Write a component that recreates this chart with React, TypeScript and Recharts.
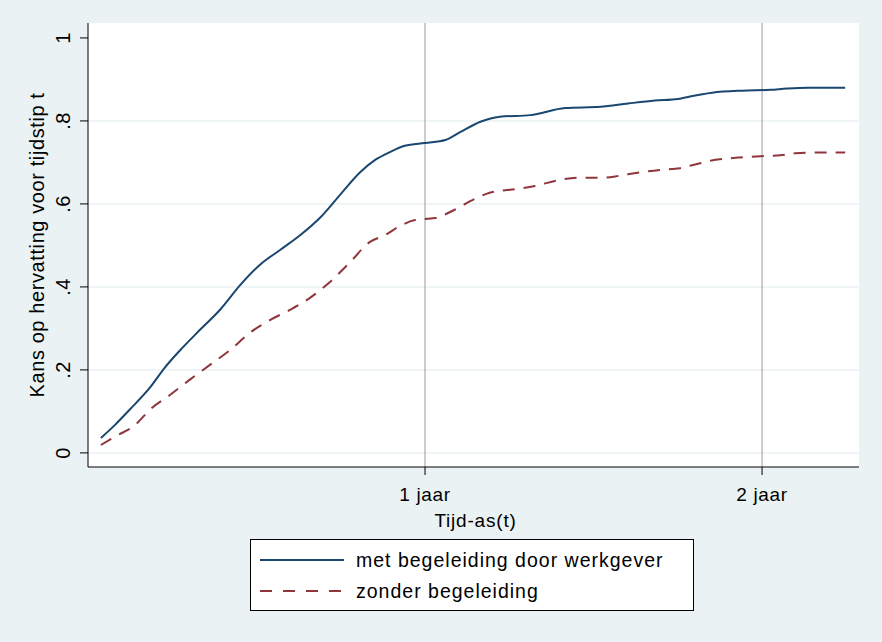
import { LineChart, Line, XAxis, YAxis, ReferenceLine, Legend, CartesianGrid } from 'recharts';

const blueDays = [14, 29, 45, 67, 83, 100, 121, 143, 165, 186, 208, 230, 251, 273, 295, 311, 327, 343, 365, 387, 403, 425, 446, 479, 517, 555, 585, 614, 639, 652, 676, 709, 739, 757, 779, 820];
const blueValues = [0.036, 0.067, 0.104, 0.157, 0.205, 0.248, 0.296, 0.345, 0.405, 0.453, 0.489, 0.525, 0.566, 0.622, 0.677, 0.706, 0.725, 0.74, 0.747, 0.754, 0.773, 0.798, 0.81, 0.814, 0.831, 0.834, 0.842, 0.849, 0.853, 0.859, 0.868, 0.873, 0.875, 0.878, 0.88, 0.88];

const redDays = [14, 29, 51, 67, 89, 110, 132, 154, 175, 197, 219, 240, 262, 284, 305, 322, 338, 354, 376, 397, 419, 435, 457, 484, 511, 533, 555, 573, 584, 598, 620, 641, 652, 663, 674, 690, 706, 728, 750, 766, 793, 820];
const redValues = [0.019, 0.039, 0.067, 0.104, 0.14, 0.176, 0.212, 0.248, 0.289, 0.32, 0.345, 0.373, 0.412, 0.46, 0.508, 0.525, 0.547, 0.561, 0.566, 0.586, 0.612, 0.627, 0.634, 0.643, 0.658, 0.663, 0.663, 0.667, 0.671, 0.676, 0.682, 0.686, 0.692, 0.698, 0.704, 0.709, 0.712, 0.715, 0.717, 0.722, 0.724, 0.724];

const xTicks = [365, 730];
const xTickLabels = ['1 jaar', '2 jaar'];
const yTicks = [0, 0.2, 0.4, 0.6, 0.8, 1];
const yTickLabels = ['0', '.2', '.4', '.6', '.8', '1'];
const yGrid = [0, 0.2, 0.4, 0.6, 0.8];

const seriesNames = ['met begeleiding door werkgever', 'zonder begeleiding'];

const blueData = blueDays.map((day, i) => ({ day, value: blueValues[i] }));
const redData = redDays.map((day, i) => ({ day, value: redValues[i] }));

const FONT = '"Liberation Sans", Arial, sans-serif';
const BLUE = '#1a476f';
const RED = '#90353b';
const BG = '#eaf2f3';

function XTick({ x, y, payload }: any) {
  const idx = xTicks.indexOf(payload.value);
  return (
    <text x={x} y={y} dy={26} textAnchor="middle" fontSize={19} letterSpacing={0.7} fontFamily={FONT} fill="#000">
      {xTickLabels[idx]}
    </text>
  );
}

function YTick({ x, y, payload }: any) {
  const idx = yTicks.indexOf(payload.value);
  const bx = x - 10;
  return (
    <text x={bx} y={y} transform={`rotate(-90, ${bx}, ${y})`} textAnchor="middle" fontSize={20} letterSpacing={0.5} fontFamily={FONT} fill="#000">
      {yTickLabels[idx]}
    </text>
  );
}

function LegendBox({ payload }: any) {
  const items = payload || [];
  return (
    <div style={{ width: 444, height: 72, boxSizing: 'border-box', border: '1px solid #000', background: '#fff' }}>
      <svg width={442} height={70}>
        {items.map((item: any, i: number) => {
          const ly = 20 + i * 31;
          return (
            <g key={i}>
              <line x1={9} x2={93} y1={ly} y2={ly} stroke={item.color} strokeWidth={2}
                strokeDasharray={i === 1 ? '12 11' : undefined} />
              <text x={105} y={ly + 7} fontSize={19.5} letterSpacing={1} fontFamily={FONT} fill="#000">{item.value}</text>
            </g>
          );
        })}
      </svg>
    </div>
  );
}

export default function App() {
  return (
    <div style={{ position: 'absolute', left: 0, top: 0, width: 882, height: 642, background: BG }}>
      <LineChart width={882} height={642} margin={{ top: 23, right: 23, bottom: 33, left: 0 }}>
        <CartesianGrid fill="#fff" fillOpacity={1} horizontal={false} vertical={false} />
        <XAxis
          type="number"
          dataKey="day"
          domain={[0, 835]}
          ticks={xTicks}
          tick={<XTick />}
          tickSize={8}
          tickMargin={0}
          height={70}
          stroke="#000"
          tickLine={{ stroke: '#000' }}
          allowDataOverflow
          label={{
            content: ({ viewBox }: any) => (
              <text x={viewBox.x + viewBox.width / 2 + 2} y={527} textAnchor="middle" fontSize={19} letterSpacing={0.8} fontFamily={FONT} fill="#000">
                Tijd-as(t)
              </text>
            ),
          }}
        />
        <YAxis
          type="number"
          domain={[-0.034, 1.036]}
          ticks={yTicks}
          tick={<YTick />}
          tickSize={8}
          tickMargin={0}
          width={88}
          stroke="#000"
          tickLine={{ stroke: '#000' }}
          allowDataOverflow
          label={{
            content: ({ viewBox }: any) => {
              const cy = viewBox.y + viewBox.height / 2;
              return (
                <text x={44} y={cy} transform={`rotate(-90, 44, ${cy})`} textAnchor="middle" fontSize={20} letterSpacing={0.6} fontFamily={FONT} fill="#000">
                  Kans op hervatting voor tijdstip t
                </text>
              );
            },
          }}
        />
        {yGrid.map((v) => (
          <ReferenceLine key={`g${v}`} y={v} stroke={BG} strokeWidth={1.5} />
        ))}
        {xTicks.map((v) => (
          <ReferenceLine key={`x${v}`} x={v} stroke="#999" strokeWidth={1} />
        ))}
        <Line data={blueData} dataKey="value" name={seriesNames[0]} type="monotone" stroke={BLUE} strokeWidth={2} dot={false} isAnimationActive={false} />
        <Line data={redData} dataKey="value" name={seriesNames[1]} type="monotone" stroke={RED} strokeWidth={2} strokeDasharray="12 9" dot={false} isAnimationActive={false} />
        <Legend
          content={<LegendBox />}
          verticalAlign="bottom"
          height={72}
          wrapperStyle={{ left: 250, top: 539, bottom: 'auto', width: 444, height: 72 }}
        />
      </LineChart>
    </div>
  );
}
